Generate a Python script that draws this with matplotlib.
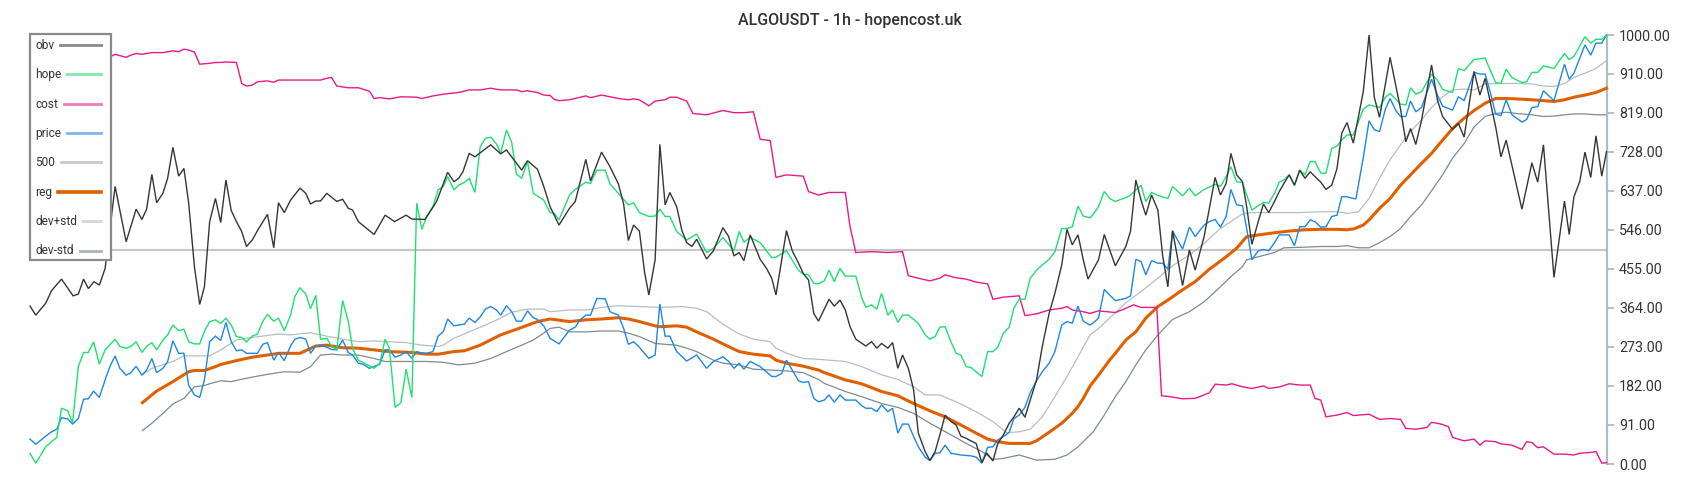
import matplotlib
matplotlib.use("Agg")
import matplotlib.pyplot as plt
from matplotlib.lines import Line2D
from matplotlib.patches import Rectangle

plt.rcParams['font.family'] = ['Roboto', 'DejaVu Sans']

TITLE = "ALGOUSDT - 1h - hopencost.uk"
X_MAX = 300.1  # hours shown

# ---- series data: (hour index, value) pairs ----
obv = [(0,368),(1.1,347),(3.0,375),(4.1,404),(6.0,431),(8.2,392),(9.2,396),(10.2,431),(11.1,409),(12.2,425),(13.2,417),(14.3,456),(16.2,647),(18.3,518),(20.2,594),(21.3,570),(22.2,594),(23.2,675),(24.1,609),(25.3,631),(26.2,666),(27.2,738),(28.3,671),(29.3,689),(30.2,609),(31.3,460),(32.3,372),(33.2,413),(34.2,565),(35.3,619),(36.3,563),(37.3,662),(38.3,591),(39.3,565),(40.3,542),(41.2,507),(42.3,522),(43.3,544),(45.2,582),(46.4,504),(47.3,609),(48.4,586),(49.6,615),(51.4,643),(52.5,631),(53.4,606),(54.4,613),(55.3,613),(56.5,631),(58.4,612),(59.5,617),(60.6,596),(61.4,592),(62.5,565),(65.5,535),(67.6,580),(69.4,565),(71.6,580),(72.7,571),(75.2,570),(77.4,612),(79.5,680),(80.7,658),(81.6,666),(82.4,681),(83.6,724),(84.7,716),(87.7,744),(89.6,723),(90.7,732),(93.6,685),(94.7,707),(96.6,687),(97.8,647),(99.0,600),(100.7,557),(102.7,596),(103.8,612),(105.8,710),(106.7,660),(108.8,727),(110.4,693),(112.0,653),(113.0,606),(113.9,521),(114.9,557),(116.0,543),(117.0,446),(117.8,394),(119.0,476),(119.9,745),(120.9,604),(121.8,633),(123.1,600),(124.1,544),(125.0,516),(126.0,507),(126.9,524),(128.8,478),(130.1,497),(131.9,551),(133.0,530),(134.0,485),(135.0,493),(135.9,474),(137.1,534),(139.0,477),(140.2,456),(141.2,433),(142.0,394),(144.0,544),(145.1,497),(146.3,468),(147.2,444),(148.2,429),(149.2,351),(150.1,333),(152.1,384),(153.1,368),(154.2,382),(155.2,359),(156.1,320),(157.2,291),(159.1,275),(160.2,285),(161.2,270),(162.1,281),(163.3,270),(164.2,283),(165.2,223),(166.1,254),(167.2,223),(168.2,173),(169.1,72),(170.4,29),(171.3,8),(172.3,29),(173.2,68),(174.2,114),(175.3,99),(176.3,91),(177.2,65),(178.2,60),(179.1,54),(180.1,48),(181.2,3),(182.1,26),(183.3,7),(184.2,47),(185.3,68),(186.4,95),(187.3,110),(188.3,130),(189.4,109),(190.4,149),(191.6,196),(192.7,274),(194.0,351),(195.1,398),(196.4,464),(197.4,547),(198.4,511),(199.5,534),(200.5,476),(201.4,431),(203.4,476),(204.5,535),(206.6,462),(208.6,507),(209.5,543),(210.5,662),(211.5,615),(212.4,580),(213.5,627),(214.7,592),(215.6,487),(216.6,413),(217.5,544),(219.4,416),(220.7,499),(221.8,452),(223.5,530),(224.5,596),(225.6,668),(226.6,627),(227.7,654),(228.6,724),(229.7,674),(230.8,658),(231.6,600),(232.6,512),(233.8,565),(234.8,606),(235.8,586),(236.9,612),(237.8,635),(238.7,654),(239.7,674),(240.7,650),(241.7,685),(242.7,666),(243.7,681),(244.6,670),(245.7,657),(246.7,640),(247.8,650),(248.8,689),(249.7,771),(250.7,796),(251.9,748),(253.8,868),(254.9,1000),(255.9,855),(256.9,808),(258.9,948),(260.9,827),(261.9,751),(262.8,782),(263.8,745),(264.9,802),(266.8,930),(267.9,849),(268.9,810),(270.8,780),(271.9,794),(273.0,762),(274.9,915),(276.0,860),(277.0,899),(279.0,786),(280.0,716),(281.0,755),(284.0,594),(285.9,702),(287.0,657),(288.1,744),(290.1,435),(292.1,613),(293.0,535),(293.9,623),(295.0,658),(296.0,727),(297.1,668),(298.1,765),(299.2,671),(300.1,728)]

hope = [(0,25),(1.1,2),(3.0,40),(4.1,52),(5.1,62),(6.0,130),(7.2,124),(8.1,96),(9.2,227),(10.2,260),(11.1,260),(12.1,285),(13.2,233),(14.3,266),(16.2,291),(17.1,274),(18.3,270),(19.2,274),(20.2,285),(21.3,260),(22.2,274),(23.2,283),(24.1,266),(25.3,289),(26.2,301),(27.2,324),(28.3,311),(29.3,314),(30.2,285),(31.3,280),(32.3,280),(33.2,309),(34.2,332),(35.3,336),(36.3,328),(37.3,340),(38.3,324),(39.3,297),(40.3,295),(41.2,285),(42.3,298),(43.3,303),(44.3,332),(45.2,349),(46.4,333),(47.3,340),(48.4,311),(49.6,347),(50.4,390),(51.4,411),(52.5,396),(53.4,362),(54.4,393),(55.3,291),(56.5,293),(57.4,274),(58.4,267),(59.5,381),(60.6,332),(61.4,270),(62.5,242),(64.6,229),(65.5,223),(66.6,235),(67.6,291),(68.4,270),(69.5,132),(70.6,143),(71.6,221),(72.7,155),(73.6,608),(74.6,547),(75.5,577),(76.7,600),(77.7,639),(78.7,647),(79.5,670),(80.7,639),(81.6,650),(82.7,656),(83.6,666),(84.7,633),(85.7,740),(86.7,759),(87.7,762),(88.8,746),(89.6,724),(90.7,779),(91.7,749),(92.6,676),(93.6,666),(94.7,705),(95.8,631),(97.8,615),(99.0,586),(99.8,584),(100.7,569),(102.7,627),(103.8,640),(105.8,657),(106.7,654),(107.9,685),(109.5,685),(110.4,653),(112.0,631),(113.9,604),(114.9,609),(116.0,586),(117.8,577),(119.0,578),(119.9,594),(120.9,577),(121.8,577),(123.1,542),(125.0,522),(126.9,536),(128.8,493),(130.1,503),(131.9,528),(134.0,497),(135.0,542),(135.9,517),(137.1,528),(139.0,516),(141.2,481),(142.0,482),(144.0,497),(146.3,451),(147.2,443),(148.2,441),(149.2,421),(150.1,420),(151.2,427),(152.1,452),(153.1,425),(154.2,456),(155.2,438),(157.2,438),(158.3,389),(159.1,365),(160.2,371),(161.2,361),(162.1,398),(163.3,347),(164.2,359),(165.2,330),(166.1,347),(167.2,347),(169.1,328),(170.4,301),(171.3,291),(172.3,297),(173.2,319),(174.2,320),(175.3,285),(176.3,258),(177.2,254),(178.2,227),(179.1,225),(180.1,215),(181.2,204),(182.3,262),(183.3,262),(184.2,272),(185.3,305),(186.4,319),(187.3,364),(188.3,384),(189.4,384),(190.4,433),(191.6,452),(192.7,464),(194.0,477),(195.1,495),(196.4,549),(197.4,549),(198.4,553),(199.5,601),(200.5,578),(201.8,574),(202.4,582),(203.4,600),(204.5,635),(205.5,619),(206.6,612),(208.6,621),(209.5,627),(211.5,650),(212.4,612),(213.5,633),(214.7,626),(216.6,619),(217.5,647),(219.4,625),(220.7,643),(221.8,625),(223.5,640),(225.6,652),(226.6,647),(227.7,670),(228.6,693),(229.7,658),(230.8,656),(232.6,592),(233.8,602),(234.8,610),(235.8,608),(236.9,631),(237.8,657),(238.7,662),(239.7,674),(240.7,649),(241.7,685),(242.7,674),(243.7,705),(244.6,705),(245.7,678),(246.7,678),(247.8,736),(248.8,741),(249.7,755),(250.7,767),(251.9,767),(253.8,827),(254.9,837),(256.9,831),(258.0,855),(258.9,864),(260.9,839),(261.9,837),(262.8,877),(263.8,862),(264.9,868),(266.8,909),(267.9,895),(268.9,873),(270.8,866),(271.9,922),(273.0,917),(274.9,943),(277.0,946),(279.0,889),(280.0,887),(281.0,920),(282.1,901),(284.0,889),(284.9,891),(285.9,913),(287.0,913),(288.1,928),(290.1,922),(292.1,957),(293.0,943),(293.9,950),(296.0,996),(297.1,981),(298.1,990),(299.2,990),(300.1,1000)]

cost = [(0,972),(3.0,992),(4.6,1003),(6.2,1002),(8.0,984),(11.5,962),(15.4,950),(16.2,955),(18.3,948),(19.2,953),(20.2,957),(21.3,955),(23.2,959),(25.3,959),(27.2,963),(28.3,961),(29.3,967),(30.2,965),(31.3,960),(32.3,932),(34.2,934),(35.3,936),(36.3,936),(37.3,937),(39.3,936),(40.3,887),(41.2,881),(42.3,883),(43.3,891),(45.2,893),(46.4,890),(47.3,895),(50.4,895),(52.5,895),(55.3,895),(56.5,899),(57.4,901),(58.4,881),(60.6,877),(62.5,877),(64.6,869),(65.5,852),(66.6,854),(68.4,851),(70.6,856),(73.6,855),(74.6,852),(76.7,858),(78.7,862),(81.6,866),(83.6,872),(85.7,872),(87.7,876),(89.6,872),(92.6,872),(93.6,868),(94.7,870),(96.6,866),(97.8,860),(99.0,859),(99.8,850),(100.7,847),(102.7,849),(105.8,858),(106.7,854),(108.8,860),(112.0,852),(113.9,849),(114.9,851),(116.0,849),(117.8,835),(119.0,846),(120.9,849),(121.8,855),(123.1,855),(125.0,846),(126.2,817),(128.8,814),(131.9,824),(134.0,819),(135.9,819),(137.7,821),(139.0,757),(140.9,754),(142.0,668),(144.0,674),(147.2,671),(148.2,635),(150.1,627),(152.1,633),(155.2,633),(156.1,553),(157.2,493),(160.2,495),(163.3,493),(166.1,495),(167.2,439),(169.1,433),(171.3,427),(173.2,433),(174.2,441),(176.3,434),(178.2,431),(180.1,424),(182.3,420),(183.3,384),(185.3,389),(188.3,392),(189.4,346),(191.6,350),(194.0,359),(196.4,363),(197.4,367),(198.4,359),(200.5,355),(201.8,351),(203.4,357),(206.6,353),(208.6,363),(210.1,371),(211.5,365),(214.5,365),(215.4,159),(217.5,156),(219.4,152),(221.8,153),(223.5,161),(224.5,166),(225.6,186),(227.7,184),(228.8,187),(230.8,180),(232.6,176),(234.8,182),(235.8,176),(238.0,180),(239.7,187),(241.8,184),(243.7,184),(244.6,153),(245.7,149),(246.7,110),(248.8,114),(250.7,120),(251.9,113),(254.9,116),(256.9,104),(258.9,106),(260.9,104),(261.9,83),(263.8,81),(265.9,85),(266.8,97),(267.9,95),(268.9,92),(270.0,87),(270.8,62),(273.0,54),(274.9,58),(276.0,44),(277.0,54),(279.0,52),(280.0,47),(282.1,44),(284.0,34),(284.9,52),(285.9,50),(287.0,38),(288.1,40),(290.1,23),(292.1,23),(293.9,21),(295.0,25),(297.1,27),(298.1,29),(299.2,2),(300.1,3)]

price = [(0,58),(1.1,46),(3.0,65),(4.1,75),(5.1,81),(6.0,108),(7.2,105),(8.1,93),(9.2,106),(10.2,151),(11.1,152),(12.1,170),(13.2,155),(14.3,196),(15.2,227),(16.2,252),(17.1,223),(18.3,207),(19.2,213),(20.2,228),(21.3,207),(22.2,219),(23.2,246),(24.1,213),(25.3,223),(26.2,239),(27.2,287),(28.3,258),(29.3,258),(30.2,184),(31.3,161),(32.3,155),(33.2,196),(34.2,285),(35.3,298),(36.3,288),(37.3,330),(38.3,285),(39.3,264),(40.3,266),(41.2,258),(42.3,258),(43.3,258),(44.3,279),(45.2,283),(46.4,242),(47.3,260),(48.4,241),(49.6,275),(50.4,291),(51.4,295),(52.5,291),(53.4,258),(54.4,275),(55.3,277),(56.5,272),(57.4,267),(58.4,266),(59.5,289),(60.6,260),(61.4,254),(62.5,235),(63.5,232),(64.6,223),(65.5,227),(66.6,233),(67.6,266),(68.4,266),(69.5,249),(70.6,254),(71.6,262),(72.7,246),(73.6,262),(74.6,258),(75.5,258),(76.7,262),(77.7,298),(78.7,309),(79.5,338),(80.7,322),(81.6,324),(82.7,326),(83.6,340),(84.7,330),(85.7,343),(86.7,361),(87.7,367),(88.8,359),(89.6,347),(90.7,369),(91.7,355),(92.6,333),(93.6,333),(94.7,357),(95.8,341),(96.6,337),(97.8,322),(99.0,293),(100.7,280),(102.7,312),(103.8,319),(104.7,336),(105.8,347),(106.7,347),(107.9,386),(109.5,385),(110.4,355),(112.0,347),(113.0,316),(113.9,279),(114.9,285),(116.0,272),(117.8,246),(119.0,254),(119.9,373),(120.9,298),(121.8,298),(123.1,262),(125.0,240),(126.9,254),(128.8,223),(130.1,239),(131.9,250),(133.0,239),(134.0,223),(135.0,235),(135.9,221),(137.1,239),(139.0,227),(141.2,204),(142.0,204),(143.1,211),(144.0,242),(146.3,194),(147.2,190),(148.2,192),(149.2,153),(150.1,145),(151.2,149),(152.1,161),(153.1,144),(154.2,161),(155.2,149),(157.2,149),(158.3,136),(159.1,130),(160.2,130),(161.2,122),(162.1,138),(163.3,122),(164.2,130),(165.2,72),(166.1,93),(167.2,93),(168.2,64),(169.1,40),(170.4,16),(171.3,8),(172.3,25),(173.2,26),(174.2,44),(175.3,25),(177.2,21),(179.1,19),(180.1,16),(181.2,2),(182.3,39),(183.3,40),(184.2,56),(185.3,64),(186.4,74),(187.3,106),(188.3,114),(189.4,132),(190.4,166),(191.6,194),(192.7,215),(194.0,235),(195.1,262),(196.4,324),(197.4,332),(198.4,328),(199.5,368),(200.5,333),(201.8,324),(202.4,329),(203.4,340),(204.5,407),(205.5,394),(206.6,381),(208.6,386),(209.5,392),(210.5,477),(211.5,472),(212.4,441),(213.5,474),(214.7,468),(215.6,468),(216.6,454),(217.5,543),(219.4,501),(220.7,552),(221.8,530),(223.5,557),(224.5,565),(225.6,570),(226.6,552),(227.7,577),(228.6,640),(229.7,604),(230.8,602),(231.6,549),(232.6,476),(233.8,497),(234.8,500),(235.8,497),(236.9,516),(237.8,534),(239.7,534),(240.7,509),(241.7,553),(242.7,553),(243.7,569),(244.6,565),(245.7,552),(246.7,553),(247.8,577),(248.8,580),(249.7,623),(250.7,623),(251.9,619),(252.4,618),(253.8,714),(254.9,800),(255.9,779),(256.9,775),(258.0,827),(258.9,852),(260.0,824),(260.9,810),(261.9,810),(262.8,846),(263.8,821),(264.9,831),(266.8,897),(267.9,860),(268.9,834),(270.8,825),(271.9,856),(273.0,847),(274.9,913),(276.0,909),(277.0,909),(277.9,870),(279.0,816),(280.0,812),(281.0,849),(282.1,814),(284.0,797),(284.9,803),(285.9,831),(287.0,833),(288.1,870),(290.1,847),(292.1,932),(293.0,897),(293.9,911),(296.0,977),(297.1,953),(298.1,981),(299.2,981),(300.1,1000)]

reg = [(21.4,143),(24.1,170),(27.2,192),(30.2,215),(31.3,218),(33.2,218),(35.3,227),(36.3,232),(39.3,241),(42.3,249),(45.2,254),(47.3,258),(51.4,258),(54.4,275),(56.5,277),(59.5,271),(62.5,270),(65.5,266),(68.4,262),(72.7,260),(75.5,256),(77.7,256),(80.7,262),(82.7,264),(85.7,277),(89.6,301),(92.6,314),(96.6,332),(99.0,338),(102.7,332),(105.8,336),(108.8,338),(112.0,341),(113.9,338),(116.0,332),(119.0,322),(119.9,320),(123.1,322),(125.0,319),(126.9,308),(130.1,291),(131.9,280),(135.0,262),(137.7,256),(140.9,252),(142.0,242),(144.0,235),(147.2,228),(150.1,219),(151.2,213),(155.2,196),(158.3,187),(162.1,169),(165.2,159),(168.2,141),(171.3,124),(174.2,110),(177.2,91),(180.1,72),(182.3,58),(184.2,52),(186.4,48),(188.3,48),(190.4,48),(191.6,54),(194.0,74),(196.4,95),(198.4,118),(199.5,134),(200.5,153),(201.8,182),(203.4,207),(205.5,242),(206.6,258),(208.6,289),(210.5,308),(212.4,340),(214.7,367),(216.6,382),(219.4,406),(221.8,425),(224.5,454),(227.7,483),(229.7,503),(231.6,530),(233.8,534),(236.9,539),(239.7,543),(242.7,546),(245.6,547),(248.8,547),(250.7,546),(252.0,548),(253.8,557),(254.9,569),(256.9,596),(258.9,619),(260.9,650),(262.8,674),(264.9,701),(266.8,724),(268.9,755),(270.8,782),(273.0,806),(274.9,824),(277.0,841),(279.0,852),(281.0,852),(283.0,851),(285.9,849),(288.1,847),(290.1,845),(292.1,849),(293.9,855),(296.0,860),(298.1,866),(300.1,876)]

dev_plus = [(21.4,208),(23.2,223),(27.2,239),(29.3,252),(31.3,252),(34.2,252),(36.3,266),(39.3,289),(42.3,295),(47.3,303),(49.6,301),(53.4,306),(56.5,298),(59.5,291),(62.5,285),(65.5,287),(68.4,285),(71.6,283),(74.6,277),(77.7,274),(78.7,277),(80.7,293),(83.6,308),(86.7,324),(89.6,340),(91.7,354),(94.7,361),(97.8,361),(99.0,355),(102.7,359),(105.8,359),(108.8,365),(112.0,369),(116.0,367),(119.9,365),(124.1,367),(126.9,363),(128.8,355),(131.9,326),(135.0,303),(137.7,291),(140.9,285),(142.0,270),(144.0,258),(147.2,246),(150.1,244),(155.2,239),(158.3,227),(162.1,208),(165.2,197),(168.2,180),(170.4,161),(173.2,161),(176.3,145),(180.1,122),(183.3,99),(185.9,73),(188.3,75),(190.4,81),(192.7,110),(195.1,157),(197.4,204),(199.5,250),(201.8,301),(203.4,316),(205.5,340),(208.6,376),(211.5,402),(214.7,433),(217.5,462),(220.7,487),(223.5,514),(226.6,549),(228.6,565),(230.8,583),(232.6,586),(237.8,586),(241.7,586),(245.6,588),(248.8,588),(250.7,584),(252.9,588),(254.9,619),(256.9,666),(258.9,709),(260.9,744),(262.8,775),(264.9,802),(266.8,831),(268.9,856),(270.8,872),(273.0,874),(274.9,872),(277.0,886),(280.0,887),(283.0,887),(285.9,886),(288.1,881),(290.1,880),(292.1,887),(293.9,901),(296.0,911),(298.1,922),(300.1,940)]

dev_minus = [(21.4,78),(23.2,95),(25.3,118),(27.2,140),(29.3,153),(31.3,180),(33.2,183),(34.2,187),(36.3,194),(38.3,192),(41.2,200),(45.2,209),(47.3,213),(48.4,215),(51.4,214),(53.4,227),(55.3,254),(57.4,256),(59.5,254),(62.5,254),(65.5,246),(67.6,239),(71.6,239),(75.5,239),(78.7,237),(81.6,231),(84.7,235),(87.7,246),(90.7,262),(93.6,277),(95.8,289),(97.8,305),(99.0,316),(100.7,319),(102.7,308),(105.8,308),(108.8,310),(112.0,310),(113.9,305),(116.0,297),(119.0,281),(120.9,279),(123.1,277),(125.0,270),(126.9,262),(130.1,242),(131.9,235),(135.0,231),(137.7,221),(140.9,219),(144.0,217),(147.2,213),(150.1,197),(151.2,188),(155.2,169),(158.3,157),(162.1,141),(165.2,132),(168.2,118),(171.3,95),(175.3,68),(178.2,48),(181.2,29),(183.3,11),(185.3,13),(188.3,21),(191.6,9),(195.1,11),(197.4,21),(199.5,40),(201.8,68),(202.4,75),(204.5,114),(206.6,157),(208.6,192),(210.5,231),(212.4,266),(214.7,301),(217.5,337),(220.7,355),(223.5,378),(226.6,413),(228.6,437),(230.8,460),(231.6,476),(233.8,483),(236.9,493),(238.7,504),(241.7,505),(245.6,507),(248.8,507),(250.7,509),(252.9,504),(254.9,504),(256.9,516),(258.9,530),(260.9,549),(262.8,577),(264.9,604),(266.8,637),(268.9,674),(270.8,713),(273.0,747),(274.9,786),(277.0,810),(279.0,817),(281.0,820),(283.0,817),(285.9,814),(288.1,810),(290.1,811),(292.1,814),(293.9,816),(296.0,816),(298.1,814),(300.1,814)]

LEVEL_500 = 500

tick_vals = [0, 91, 182, 273, 364, 455, 546, 637, 728, 819, 910, 1000]
tick_labels = ["%.2f" % v for v in tick_vals]

legend_labels = ["obv", "hope", "cost", "price", "500", "reg", "dev+std", "dev-std"]

# ---- styles ----
line_colors = {"obv": "#363636", "hope": "#1ee070", "cost": "#e8198a", "price": "#1e88e5",
               "500": "#c6c6c6", "reg": "#e06000", "dev+std": "#b6bec4", "dev-std": "#7d8b95"}
legend_colors = {"obv": "#8a8a8a", "hope": "#7fe9ab", "cost": "#f07cbc", "price": "#7cb6ea",
                 "500": "#c8c8c8", "reg": "#d96000", "dev+std": "#d0d8dc", "dev-std": "#a8b3ba"}

fig = plt.figure(figsize=(17, 5), dpi=100)
fig.patch.set_facecolor("white")
ax = fig.add_axes([30 / 1700, 36 / 500, 1576.5 / 1700, 429 / 500])


def unzip(pts):
    return [p[0] for p in pts], [p[1] for p in pts]


ax.axhline(LEVEL_500, color=line_colors["500"], lw=1.5, zorder=1)
for name, pts, lw, z in [("dev-std", dev_minus, 0.9, 2), ("dev+std", dev_plus, 0.9, 2),
                         ("reg", reg, 2.2, 3), ("cost", cost, 1.0, 4), ("price", price, 1.0, 5),
                         ("hope", hope, 1.0, 6), ("obv", obv, 1.0, 7)]:
    xs, ys = unzip(pts)
    ax.plot(xs, ys, color=line_colors[name], lw=lw, zorder=z, clip_on=False,
            solid_joinstyle="miter")

ax.set_xlim(0, X_MAX)
ax.set_ylim(0, 1000)
ax.set_xticks([])
ax.yaxis.tick_right()
ax.set_yticks(tick_vals)
ax.set_yticklabels(tick_labels)
for s in ["left", "top", "bottom"]:
    ax.spines[s].set_visible(False)
ax.spines["right"].set_color("#b2bac2")
ax.spines["right"].set_linewidth(1.6)
ax.tick_params(axis="y", direction="out", length=5, width=1.3, colors="#b2bac2",
               labelcolor="#333333", labelsize=10.3, pad=4)

fig.text(0.5, 1 - 20.5 / 500, TITLE, ha="center", va="center", fontsize=11.5,
         fontweight="medium", color="#333333")

# ---- legend (text first, sample line to the right) ----
box = Rectangle((30 / 1700, 1 - 260 / 500), 81 / 1700, 226 / 500, transform=fig.transFigure,
                facecolor="white", edgecolor="#8a8a8a", lw=1.6, zorder=5)
fig.patches.append(box)
renderer = fig.canvas.get_renderer()
for i, lab in enumerate(legend_labels):
    ly = 44.7 + 29.4 * i
    t = fig.text(35 / 1700, 1 - (ly + 4) / 500, lab, ha="left", va="baseline", fontsize=8.6,
                 color="#333333", zorder=6)
    ext = t.get_window_extent(renderer)
    x0 = ext.x1 + 6
    fig.lines.append(Line2D([x0 / 1700, 101 / 1700], [1 - ly / 500, 1 - ly / 500],
                            transform=fig.transFigure, color=legend_colors[lab],
                            lw=2.6 if lab == "reg" else 2.0, zorder=6))

fig.savefig("out.png", dpi=100, facecolor="white")
